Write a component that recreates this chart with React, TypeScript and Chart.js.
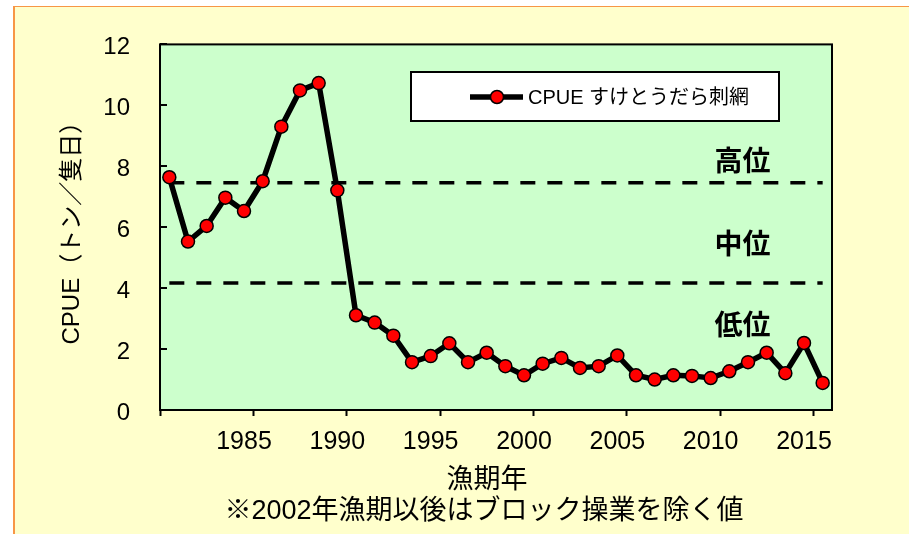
import React, { useEffect, useRef } from 'react';
import { Chart, registerables } from 'chart.js';

Chart.register(...registerables);

// ---- data ----
const YEARS = [
  '1981', '1982', '1983', '1984', '1985', '1986', '1987', '1988', '1989', '1990',
  '1991', '1992', '1993', '1994', '1995', '1996', '1997', '1998', '1999', '2000',
  '2001', '2002', '2003', '2004', '2005', '2006', '2007', '2008', '2009', '2010',
  '2011', '2012', '2013', '2014', '2015', '2016',
];
const CPUE = [
  7.64, 5.53, 6.04, 6.97, 6.53, 7.51, 9.30, 10.49, 10.73, 7.21,
  3.11, 2.87, 2.44, 1.57, 1.77, 2.19, 1.57, 1.88, 1.44, 1.14,
  1.52, 1.71, 1.38, 1.44, 1.79, 1.14, 1.00, 1.14, 1.12, 1.05,
  1.27, 1.57, 1.88, 1.21, 2.20, 0.89,
];
const HIGH_BOUNDARY = 7.46; // 高位 / 中位
const LOW_BOUNDARY = 4.17; // 中位 / 低位
const X_LABEL_YEARS = ['1985', '1990', '1995', '2000', '2005', '2010', '2015'];
const Y_MIN = 0;
const Y_MAX = 12;
const Y_STEP = 2;
const LEVEL_LABELS = ['高位', '中位', '低位'];
const LEVEL_LABEL_VALUES = [8.2, 5.46, 2.8];
const LEVEL_LABEL_CATEGORY = 30.7;

const SERIES_NAME = 'CPUE すけとうだら刺網';
const Y_TITLE = 'CPUE（トン／隻日）';
const X_TITLE = '漁期年';
const FOOTNOTE = '※2002年漁期以後はブロック操業を除く値';

const LATIN = "'Liberation Sans', 'Noto Sans CJK JP', sans-serif";
const JP = "'Noto Sans CJK JP', sans-serif";

const decorPlugin = {
  id: 'decor',
  beforeDraw(chart: any) {
    const { ctx, chartArea: a } = chart;
    ctx.save();
    ctx.fillStyle = '#CCFFCC';
    ctx.fillRect(a.left, a.top, a.right - a.left, a.bottom - a.top);
    ctx.restore();
  },
  beforeDatasetsDraw(chart: any) {
    const { ctx, chartArea: a, scales } = chart;
    const ys = scales.y;
    const xs = scales.x;
    ctx.save();
    ctx.strokeStyle = '#000';
    ctx.lineWidth = 2;
    ctx.strokeRect(a.left, a.top, a.right - a.left, a.bottom - a.top);
    ys.ticks.forEach((t: any) => {
      const py = Math.round(ys.getPixelForValue(t.value));
      ctx.beginPath();
      ctx.moveTo(a.left, py);
      ctx.lineTo(a.left + 7, py);
      ctx.stroke();
    });
    ctx.fillStyle = '#000';
    ctx.font = `bold 28px ${JP}`;
    ctx.textAlign = 'center';
    ctx.textBaseline = 'middle';
    const lx = xs.getPixelForValue(LEVEL_LABEL_CATEGORY);
    LEVEL_LABELS.forEach((l, i) => {
      ctx.fillText(l, lx, ys.getPixelForValue(LEVEL_LABEL_VALUES[i]));
    });
    ctx.restore();
  },
  afterDraw(chart: any) {
    const { ctx } = chart;
    const ds = chart.data.datasets[0];
    ctx.save();
    // legend box
    ctx.fillStyle = '#FFFFFF';
    ctx.fillRect(411, 72, 368, 49);
    ctx.strokeStyle = '#000';
    ctx.lineWidth = 2;
    ctx.strokeRect(411, 72, 368, 49);
    ctx.beginPath();
    ctx.lineWidth = ds.borderWidth;
    ctx.strokeStyle = ds.borderColor;
    ctx.moveTo(470, 97);
    ctx.lineTo(523, 97);
    ctx.stroke();
    ctx.beginPath();
    ctx.arc(497, 97, ds.pointRadius, 0, Math.PI * 2);
    ctx.fillStyle = ds.pointBackgroundColor;
    ctx.fill();
    ctx.lineWidth = ds.pointBorderWidth;
    ctx.strokeStyle = ds.pointBorderColor;
    ctx.stroke();
    ctx.fillStyle = '#000';
    ctx.font = `20px ${LATIN}`;
    ctx.textAlign = 'left';
    ctx.textBaseline = 'middle';
    ctx.fillText(ds.label, 528, 98);
    // x title & footnote
    ctx.textAlign = 'center';
    ctx.font = `27px ${JP}`;
    ctx.fillText(X_TITLE, 487, 478);
    ctx.font = `27px ${LATIN}`;
    ctx.fillText(FOOTNOTE, 484, 512);
    ctx.restore();
  },
};

export default function App() {
  const ref = useRef<HTMLCanvasElement | null>(null);

  useEffect(() => {
    if (!ref.current) return;
    const chart = new Chart(ref.current, {
      type: 'line',
      data: {
        labels: YEARS,
        datasets: [
          {
            label: SERIES_NAME,
            data: CPUE,
            borderColor: '#000000',
            borderWidth: 5.5,
            pointRadius: 6.5,
            pointBackgroundColor: '#FF0000',
            pointBorderColor: '#000000',
            pointBorderWidth: 1.5,
            tension: 0,
          },
          {
            label: '高位境界',
            data: YEARS.map(() => HIGH_BOUNDARY),
            borderColor: '#000000',
            borderWidth: 3.5,
            borderDash: [15, 12],
            pointRadius: 0,
          },
          {
            label: '低位境界',
            data: YEARS.map(() => LOW_BOUNDARY),
            borderColor: '#000000',
            borderWidth: 3.5,
            borderDash: [15, 12],
            pointRadius: 0,
          },
        ],
      },
      options: {
        responsive: false,
        animation: false,
        devicePixelRatio: 1,
        layout: { padding: { top: 41, right: 77, left: 0, bottom: 0 } },
        plugins: {
          legend: { display: false },
          tooltip: { enabled: false },
        },
        scales: {
          x: {
            type: 'category',
            offset: true,
            afterFit: (s: any) => {
              s.height = 124;
            },
            grid: {
              offset: true,
              drawOnChartArea: false,
              drawTicks: true,
              tickLength: 6,
              tickWidth: 2,
              tickColor: (c: any) =>
                typeof c.index === 'number' && c.index % 5 === 0 ? '#000' : 'rgba(0,0,0,0)',
            },
            border: { display: false },
            ticks: {
              autoSkip: false,
              maxRotation: 0,
              minRotation: 0,
              padding: 11,
              color: '#000',
              font: { family: LATIN, size: 25 },
              callback: (_v: any, i: number) =>
                X_LABEL_YEARS.includes(YEARS[i]) ? YEARS[i] : '',
            },
          },
          y: {
            min: Y_MIN,
            max: Y_MAX,
            afterFit: (s: any) => {
              s.width = 160;
            },
            grid: { display: false, drawTicks: false },
            border: { display: false },
            ticks: {
              stepSize: Y_STEP,
              padding: 30,
              labelOffset: 3,
              color: '#000',
              font: { family: LATIN, size: 24 },
            },
            title: {
              display: true,
              text: Y_TITLE,
              color: '#000',
              font: { family: LATIN, size: 24 },
              padding: { top: 58, bottom: 0 },
            },
          },
        },
      },
      plugins: [decorPlugin],
    } as any);
    return () => chart.destroy();
  }, []);

  return (
    <div
      style={{
        position: 'absolute',
        left: 0,
        top: 0,
        width: 909,
        height: 534,
        background: '#FFFFFF',
        overflow: 'hidden',
      }}
    >
      <div
        style={{
          position: 'absolute',
          left: 13,
          top: 6,
          right: 0,
          bottom: 0,
          background: '#FFFFCC',
          borderLeft: '2px solid #F79646',
          borderTop: '1px solid #F79646',
        }}
      />
      <canvas
        ref={ref}
        width={909}
        height={534}
        style={{ position: 'absolute', left: 0, top: 0, display: 'block' }}
      />
    </div>
  );
}
